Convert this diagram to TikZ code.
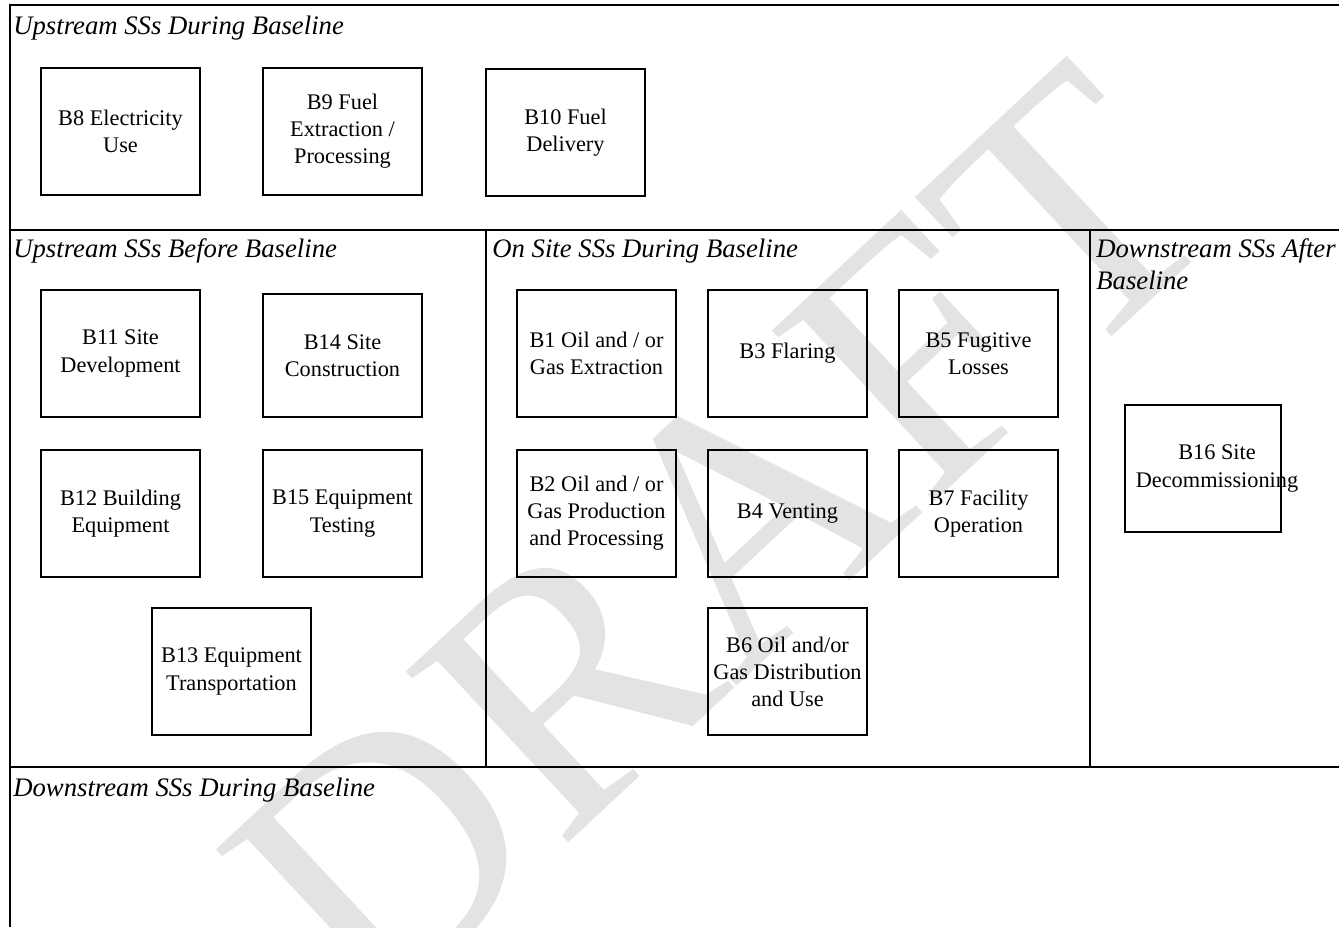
\documentclass[tikz,border=0pt]{standalone}
\usepackage{fontspec}
\setmainfont{Liberation Serif}
\definecolor{draftgray}{RGB}{227,227,227}
\tikzset{
  sourcebox/.style={draw, line width=0.7pt, minimum width=3.18cm, minimum height=2.54cm,
    align=center, inner sep=2pt, font=\fontsize{12.7}{15.4}\selectfont},
  boxtext/.style={align=center, inner sep=0pt, font=\fontsize{12.7}{15.4}\selectfont},
  grouplabel/.style={anchor=base west, inner sep=0pt, align=left,
    font=\fontsize{15.2}{18.2}\selectfont\itshape},
  frameline/.style={line width=0.9pt}
}
\begin{document}
\begin{tikzpicture}[x=0.02cm, y=-0.02cm]
  \useasboundingbox (0,0) rectangle (1339,927);

  % Watermark
  \node[rotate=43, text=draftgray, font=\fontsize{205}{205}\selectfont] (draft) at (720,540) {DRAFT};

  % Frame
  \draw[frameline] (10,927) -- (10,5) -- (1339,5);
  \draw[frameline] (10,230) -- (1339,230);
  \draw[frameline] (10,767) -- (1339,767);
  \draw[frameline] (486,230) -- (486,767);
  \draw[frameline] (1090,230) -- (1090,767);

  % Group labels
  \node[grouplabel] (updur) at (13,34) {Upstream SSs During Baseline};
  \node[grouplabel] (upbef) at (13,257) {Upstream SSs Before Baseline};
  \node[grouplabel] (onsite) at (492,257) {On Site SSs During Baseline};
  \node[grouplabel] (downaft) at (1096,289) {Downstream SSs After\\Baseline};
  \node[grouplabel] (downdur) at (13,796) {Downstream SSs During Baseline};

  % Sources and sinks
  \foreach \x/\y/\name/\txt in {
      120.5/131.5/b8/{B8 Electricity\\Use},
      342.5/131.5/b9/{B9 Fuel\\Extraction /\\Processing},
      565.5/132.5/b10/{B10 Fuel\\Delivery},
      120.5/353.5/b11/{B11 Site\\Development},
      120.5/513.5/b12/{B12 Building\\Equipment},
      342.5/513.5/b15/{B15 Equipment\\Testing},
      231.5/671.5/b13/{B13 Equipment\\Transportation},
      596.5/353.5/b1/{B1 Oil and / or\\Gas Extraction},
      787.5/353.5/b3/{B3 Flaring},
      978.5/353.5/b5/{B5 Fugitive\\Losses},
      596.5/513.5/b2/{B2 Oil and / or\\Gas Production\\and Processing},
      787.5/513.5/b4/{B4 Venting},
      978.5/513.5/b7/{B7 Facility\\Operation},
      787.5/671.5/b6/{B6 Oil and/or\\Gas Distribution\\and Use}} {
    \node[sourcebox] (\name) at (\x,\y) {\txt};
  }
  \node[sourcebox, minimum height=2.46cm] (b14) at (342.5,355.5) {B14 Site\\Construction};

  % B16: its text runs over the right side of the box
  \node[sourcebox, minimum width=3.12cm] (b16) at (1203,468.5) {};
  \node[boxtext] (b16text) at (1217,468.5) {B16 Site\\Decommissioning};
\end{tikzpicture}
\end{document}
